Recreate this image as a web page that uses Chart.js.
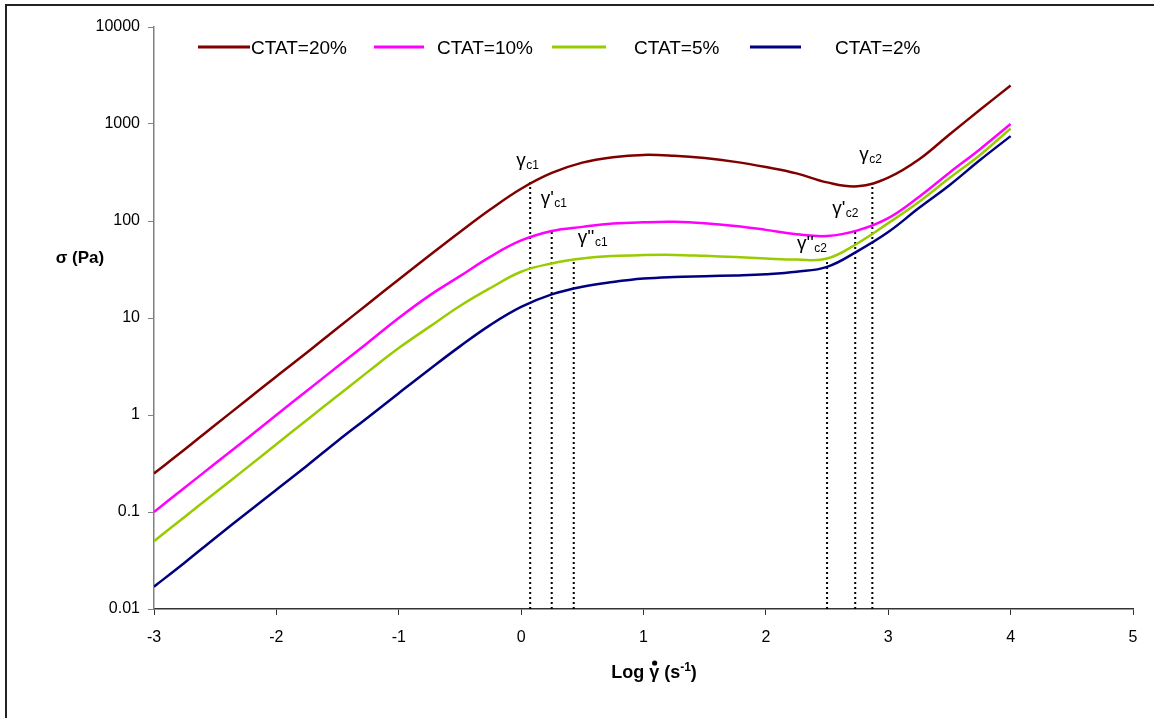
<!DOCTYPE html>
<html lang="en">
<head>
	<meta charset="UTF-8">
	<title>Flow curves CTAT</title>
	<style>
		body { margin: 0; background: #fff; }
		canvas { display: block; }
	</style>
</head>
<body>
	<canvas id="flowChart" width="1154" height="718"></canvas>

	<script src="https://cdn.jsdelivr.net/npm/chart.js@4.4.1/dist/chart.umd.min.js"></script>
	<script type="text/javascript">

		// log shear rate
		var logRate = [-3, -2.75, -2.5, -2.25, -2, -1.75, -1.5, -1.25, -1, -0.75, -0.5, -0.25,
			0, 0.25, 0.5, 0.75, 1, 1.25, 1.5, 1.75, 2, 2.25, 2.5, 2.75, 3, 3.25, 3.5, 3.75, 4];

		// shear stress (Pa)
		var ctat20 = [0.25, 0.44, 0.79, 1.4, 2.5, 4.4, 7.9, 14, 25, 44, 77, 132,
			215, 313, 400, 455, 480, 470, 445, 407, 360, 310, 250, 228, 280, 430, 780, 1400, 2500];
		var ctat10 = [0.1, 0.178, 0.316, 0.56, 1, 1.78, 3.16, 5.6, 10, 17, 27, 43,
			63, 79, 87, 94, 97, 98, 95, 89, 81, 73, 70, 80, 107, 177, 315, 550, 1000];
		var ctat5 = [0.05, 0.089, 0.158, 0.28, 0.5, 0.89, 1.58, 2.8, 4.9, 8.1, 13.3, 20.4,
			30, 36.5, 41, 43.5, 44.5, 44.7, 43.7, 42.5, 41, 40, 41, 59, 95, 157, 277, 480, 900];
		var ctat2 = [0.017, 0.030, 0.054, 0.096, 0.17, 0.30, 0.54, 0.95, 1.68, 2.95, 5.1, 8.5,
			13, 17.5, 21, 23.5, 25.5, 26.5, 27, 27.5, 28.3, 30, 33.7, 49, 77, 136, 234, 425, 750];

		var seriesNames = ['CTAT=20%', 'CTAT=10%', 'CTAT=5%', 'CTAT=2%'];

		// critical shear rates (dotted markers)
		var critNames = ['γc1', "γ'c1", "γ''c1", "γ''c2", "γ'c2", 'γc2'];
		var critX = [0.074, 0.25, 0.43, 2.5, 2.73, 2.87];
		var critY = [252, 79, 40, 41, 77, 245];

		var yTicks = [0.01, 0.1, 1, 10, 100, 1000, 10000];

		var FONT = "'Liberation Sans', Arial, sans-serif";
		var colors = ['#800000', '#ff00ff', '#99cc00', '#000080'];

		function points(ys) {
			return logRate.map(function (x, i) { return { x: x, y: ys[i] }; });
		}

		var datasets = [ctat20, ctat10, ctat5, ctat2].map(function (ys, i) {
			return {
				label: seriesNames[i],
				data: points(ys),
				borderColor: colors[i],
				borderWidth: 2.5,
				pointRadius: 0,
				tension: 0.4,
				fill: false
			};
		});

		critX.forEach(function (cx, i) {
			datasets.push({
				label: critNames[i],
				data: [{ x: cx, y: 0.01 }, { x: cx, y: critY[i] }],
				borderColor: '#000',
				borderWidth: 2,
				borderDash: [2, 3],
				pointRadius: 0,
				fill: false
			});
		});

		// label offsets from the top of each dotted line (left edge, baseline)
		var labelOffsets = [[-14, -16], [-11, -27], [4, -17], [-30, -10], [-23, -18], [-13, -23]];
		var legendPos = [[198, 250, 251], [374, 424, 437], [552, 606, 634], [750, 801, 835]];

		function drawGamma(c, text, x, y) {
			var m = text.match(/^(γ'*)(.*)$/);
			c.font = '19px ' + FONT;
			c.textAlign = 'left';
			c.textBaseline = 'alphabetic';
			c.fillText(m[1], x, y);
			var w = c.measureText(m[1]).width;
			c.font = '12px ' + FONT;
			c.fillText(m[2], x + w + 0.5, y + 3);
		}

		var decorations = {
			id: 'decorations',
			afterDraw: function (chart) {
				var c = chart.ctx;
				var xs = chart.scales.x, ys = chart.scales.y;
				c.save();

				// outer frame
				c.strokeStyle = '#222';
				c.lineWidth = 2;
				c.beginPath();
				c.moveTo(6, 720);
				c.lineTo(6, 5);
				c.lineTo(1160, 5);
				c.stroke();

				// legend
				c.lineWidth = 3;
				chart.data.datasets.slice(0, 4).forEach(function (ds, i) {
					var p = legendPos[i];
					c.strokeStyle = ds.borderColor;
					c.beginPath();
					c.moveTo(p[0], 47);
					c.lineTo(p[1], 47);
					c.stroke();
					c.fillStyle = '#000';
					c.font = '19px ' + FONT;
					c.textAlign = 'left';
					c.textBaseline = 'middle';
					c.fillText(ds.label, p[2], 49);
				});

				// critical rate labels
				c.fillStyle = '#000';
				critNames.forEach(function (name, i) {
					var px = xs.getPixelForValue(critX[i]);
					var py = ys.getPixelForValue(critY[i]);
					drawGamma(c, name, px + labelOffsets[i][0], py + labelOffsets[i][1]);
				});

				// axis titles
				c.font = 'bold 17px ' + FONT;
				c.textAlign = 'center';
				c.textBaseline = 'middle';
				c.fillText('σ (Pa)', 80, 258);

				var parts = [['Log ', 18, 0], ['γ', 18, 0], [' (s', 18, 0], ['-1', 12, -7], [')', 18, 0]];
				var total = 0;
				parts.forEach(function (p) {
					c.font = 'bold ' + p[1] + 'px ' + FONT;
					p.push(c.measureText(p[0]).width);
					total += p[3];
				});
				var tx = 654 - total / 2;
				c.textAlign = 'left';
				c.textBaseline = 'alphabetic';
				parts.forEach(function (p) {
					c.font = 'bold ' + p[1] + 'px ' + FONT;
					c.fillText(p[0], tx, 678 + p[2]);
					if (p[0] === 'γ') {
						// rate dot over gamma
						c.beginPath();
						c.arc(tx + p[3] / 2 + 0.5, 663, 2.6, 0, Math.PI * 2);
						c.fill();
					}
					tx += p[3];
				});

				c.restore();
			}
		};

		var ctx = document.getElementById('flowChart').getContext('2d');
		var flowChart = new Chart(ctx, {
			type: 'line',
			data: { datasets: datasets },
			options: {
				responsive: false,
				animation: false,
				devicePixelRatio: 1,
				layout: { padding: { top: 27, right: 21, left: 0, bottom: 0 } },
				plugins: {
					legend: { display: false },
					tooltip: { enabled: false }
				},
				scales: {
					x: {
						type: 'linear',
						min: -3,
						max: 5,
						ticks: { stepSize: 1, color: '#000', padding: 13, font: { size: 16, family: FONT } },
						grid: { drawOnChartArea: false, tickLength: 6, color: '#333' },
						border: { color: '#333', width: 1.5 },
						afterFit: function (s) { s.height = 109; }
					},
					y: {
						type: 'logarithmic',
						min: 0.01,
						max: 10000,
						afterBuildTicks: function (s) {
							s.ticks = yTicks.map(function (v) { return { value: v }; });
						},
						ticks: {
							color: '#000',
							padding: 8,
							font: { size: 16, family: FONT },
							callback: function (v) { return String(v); }
						},
						grid: { drawOnChartArea: false, tickLength: 6, color: '#808080' },
						border: { color: '#808080', width: 1.5 },
						afterFit: function (s) { s.width = 154; }
					}
				}
			},
			plugins: [decorations]
		});
	</script>
</body>
</html>
